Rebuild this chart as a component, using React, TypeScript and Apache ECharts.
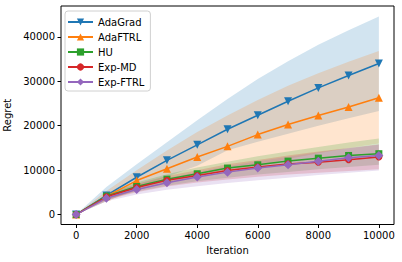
import React, { useEffect, useRef } from "react";
import * as echarts from "echarts";

const iterations = [0, 1000, 2000, 3000, 4000, 5000, 6000, 7000, 8000, 9000, 10000];
const names = ["AdaGrad", "AdaFTRL", "HU", "Exp-MD", "Exp-FTRL"];
const colors = ["#1f77b4", "#ff7f0e", "#2ca02c", "#d62728", "#9467bd"];

const adaGradMean = [0, 4300, 8400, 12200, 15700, 19200, 22350, 25500, 28500, 31300, 34000];
const adaFtrlMean = [0, 4100, 7650, 10300, 12950, 15350, 18000, 20250, 22280, 24220, 26300];
const huMean = [0, 4150, 6320, 7970, 9180, 10460, 11200, 12030, 12700, 13300, 13700];
const expMdMean = [0, 4000, 6100, 7700, 8800, 9900, 10700, 11400, 11800, 12350, 12950];
const expFtrlMean = [0, 3700, 5650, 7150, 8450, 9550, 10460, 11200, 12000, 12800, 13300];

const adaGradUpper = [0, 6200, 11300, 16300, 21200, 26000, 30500, 34500, 38200, 41500, 44600];
const adaGradLower = [0, 3000, 5800, 8500, 11000, 14500, 16400, 18200, 20000, 21700, 23300];
const adaFtrlUpper = [0, 5300, 10000, 14400, 18600, 22300, 25800, 29000, 31800, 34400, 36800];
const adaFtrlLower = [0, 3000, 5500, 7200, 8500, 9800, 11100, 12500, 13800, 15000, 16000];
const huUpper = [0, 4600, 7200, 9100, 10600, 11900, 13100, 14200, 15200, 16200, 17100];
const huLower = [0, 3500, 5200, 6500, 7500, 8300, 9000, 9600, 10200, 10700, 11200];
const expMdUpper = [0, 4500, 6900, 8700, 10000, 11300, 12300, 13300, 14200, 15000, 15800];
const expMdLower = [0, 3300, 5000, 6300, 7200, 7900, 8500, 9000, 9400, 9800, 10200];
const expFtrlUpper = [0, 4200, 6500, 8200, 9600, 10900, 12000, 13000, 14000, 14900, 15700];
const expFtrlLower = [0, 3000, 4500, 5600, 6400, 7100, 7700, 8300, 8900, 9400, 9900];

const xTicks = [0, 2000, 4000, 6000, 8000, 10000];
const yTicks = [0, 10000, 20000, 30000, 40000];

const means = [adaGradMean, adaFtrlMean, huMean, expMdMean, expFtrlMean];
const uppers = [adaGradUpper, adaFtrlUpper, huUpper, expMdUpper, expFtrlUpper];
const lowers = [adaGradLower, adaFtrlLower, huLower, expMdLower, expFtrlLower];
const symbols = ["triangle", "triangle", "rect", "circle", "diamond"];
const symbolRotates = [180, 0, 0, 0, 0];
const symbolSizes = [8, 8, 7, 7, 9];

function hexA(hex: string, a: number) {
  const r = parseInt(hex.slice(1, 3), 16);
  const g = parseInt(hex.slice(3, 5), 16);
  const b = parseInt(hex.slice(5, 7), 16);
  return `rgba(${r},${g},${b},${a})`;
}

export default function App() {
  const ref = useRef<HTMLDivElement>(null);
  useEffect(() => {
    if (!ref.current) return;
    const chart = echarts.init(ref.current, null, { renderer: "svg" });
    const font = "DejaVu Sans";
    const series: any[] = [];
    series.push({
      name: "bands",
      type: "custom",
      data: names.map((_, i) => [iterations[iterations.length - 1], means[i][iterations.length - 1]]),
      silent: true,
      z: 1,
      clip: true,
      renderItem: (params: any, api: any) => {
        const i = params.dataIndex;
        const pts: number[][] = [];
        iterations.forEach((x, k) => pts.push(api.coord([x, uppers[i][k]])));
        for (let k = iterations.length - 1; k >= 0; k--) pts.push(api.coord([iterations[k], lowers[i][k]]));
        return {
          type: "polygon",
          shape: { points: pts },
          style: { fill: hexA(colors[i], 0.2), stroke: "none" },
        };
      },
    });
    names.forEach((n, i) => {
      series.push({
        name: n,
        type: "line",
        data: iterations.map((x, k) => [x, means[i][k]]),
        symbol: symbols[i],
        symbolRotate: symbolRotates[i],
        symbolSize: symbolSizes[i],
        showAllSymbol: true,
        color: colors[i],
        lineStyle: { color: colors[i], width: 1.5 },
        itemStyle: { color: colors[i] },
        z: 3,
      });
    });
    chart.setOption({
      animation: false,
      textStyle: { fontFamily: font },
      grid: {
        left: 61,
        right: 8,
        top: 6,
        bottom: 37.5,
        outerBoundsMode: "none",
        containLabel: false,
        show: true,
        borderColor: "#000",
        borderWidth: 1,
        backgroundColor: "transparent",
      },
      legend: {
        data: names,
        orient: "vertical",
        left: 65,
        top: 11,
        itemWidth: 25,
        itemHeight: 9,
        itemGap: 5,
        padding: [6, 6, 4, 2],
        borderColor: "#d0d0d0",
        borderWidth: 1,
        borderRadius: 3,
        backgroundColor: "rgba(255,255,255,0.8)",
        textStyle: { fontFamily: font, fontSize: 10, color: "#000", padding: [0, 0, 0, 0] },
      },
      xAxis: {
        type: "value",
        min: -500,
        max: 10500,
        name: "Iteration",
        nameLocation: "middle",
        nameGap: 21,
        nameTextStyle: { fontFamily: font, fontSize: 10, color: "#000" },
        axisLine: { show: false, onZero: false },
        splitLine: { show: false },
        axisPointer: { show: false },
        axisTick: { show: true, length: 3.5, lineStyle: { color: "#000" }, customValues: xTicks },
        axisLabel: {
          fontFamily: font,
          fontSize: 10,
          color: "#000",
          margin: 6,
          customValues: xTicks,
          formatter: (v: number) => String(v),
        },
      },
      yAxis: {
        type: "value",
        min: -2235,
        max: 46935,
        name: "Regret",
        nameLocation: "middle",
        nameGap: 44,
        nameTextStyle: { fontFamily: font, fontSize: 10, color: "#000" },
        axisLine: { show: false, onZero: false },
        splitLine: { show: false },
        axisPointer: { show: false },
        axisTick: { show: true, length: 3.5, lineStyle: { color: "#000" }, customValues: yTicks },
        axisLabel: {
          fontFamily: font,
          fontSize: 10,
          color: "#000",
          margin: 6,
          customValues: yTicks,
          formatter: (v: number) => String(v),
        },
      },
      series,
    });
    return () => chart.dispose();
  }, []);
  return <div ref={ref} style={{ width: 402, height: 262, position: "absolute", left: 0, top: 0 }} />;
}
